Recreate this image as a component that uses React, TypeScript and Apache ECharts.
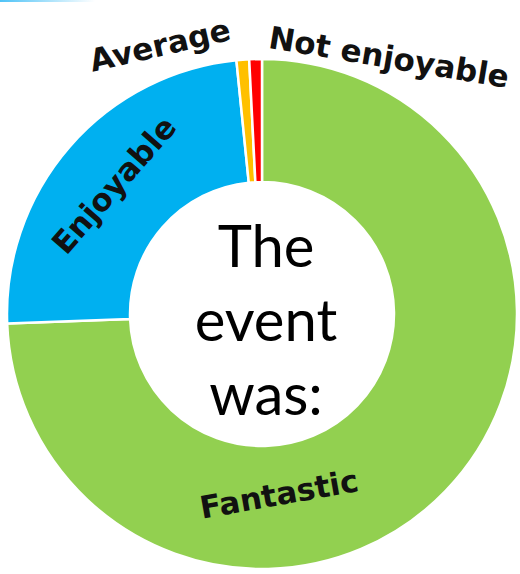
import React, { useEffect, useRef } from "react";
import * as echarts from "echarts";

const categories = ["Fantastic", "Enjoyable", "Average", "Not enjoyable"];
const values = [93, 30, 1, 1];
const colors = ["#92D050", "#00B0F0", "#FFC000", "#FF0000"];
const centerTitle = "The\nevent\nwas:";

export default function App() {
  const ref = useRef<HTMLDivElement>(null);
  useEffect(() => {
    if (!ref.current) return;
    const chart = echarts.init(ref.current, undefined, { renderer: "svg" });
    const labelFont = {
      fontFamily: "DejaVu Sans",
      fontWeight: "bold" as const,
      fontSize: 31,
      color: "#111",
    };
    const layouts: Record<number, any> = {
      0: { x: 279, y: 494, rotate: 10 },
      2: { x: 160, y: 45, rotate: 13 },
      3: { x: 389, y: 57, rotate: -9.5 },
    };
    chart.setOption({
      animation: false,
      backgroundColor: "#ffffff",
      graphic: [
        {
          type: "rect",
          shape: { x: 0, y: 0, width: 95, height: 2 },
          style: {
            fill: new echarts.graphic.LinearGradient(0, 0, 1, 0, [
              { offset: 0, color: "#4fc3f7" },
              { offset: 1, color: "rgba(79,195,247,0)" },
            ]),
          },
        },
        {
          type: "text",
          x: 266,
          y: 318,
          z: 10,
          style: {
            text: centerTitle,
            fontFamily: "Lato",
            fontSize: 58,
            lineHeight: 74,
            fill: "#000",
            align: "center",
            verticalAlign: "middle",
          },
        },
      ],
      series: [
        {
          type: "pie",
          center: [262, 314],
          radius: [132, 255],
          startAngle: 90,
          clockwise: true,
          avoidLabelOverlap: false,
          itemStyle: { borderColor: "#ffffff", borderWidth: 2.5 },
          label: {
            show: true,
            position: "inside",
            rotate: "tangential",
            formatter: "{b}",
            ...labelFont,
          },
          labelLine: { show: false },
          emphasis: { disabled: true },
          labelLayout: (p: any) => {
            const l = layouts[p.dataIndex];
            if (!l) return {};
            return { ...l, align: "center", verticalAlign: "middle" };
          },
          data: categories.map((c, i) => ({
            name: c,
            value: values[i],
            itemStyle: { color: colors[i] },
          })),
        },
      ],
    });
    return () => chart.dispose();
  }, []);
  return (
    <div
      ref={ref}
      style={{ position: "fixed", left: 0, top: 0, width: 520, height: 574 }}
    />
  );
}
